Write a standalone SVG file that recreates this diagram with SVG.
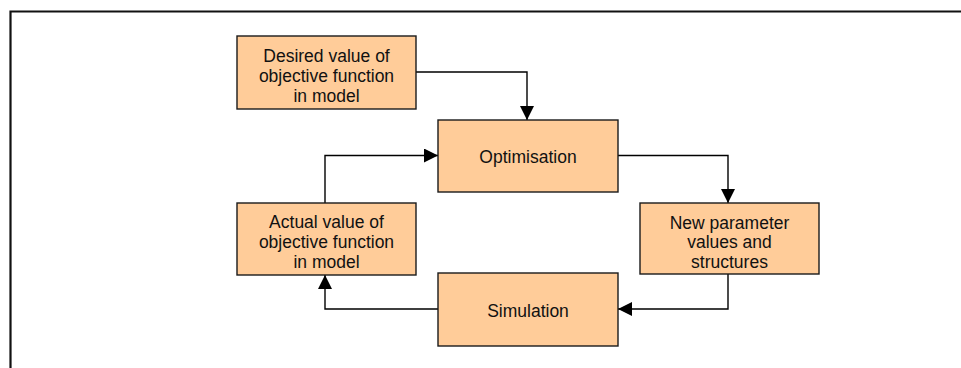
<svg xmlns="http://www.w3.org/2000/svg" width="961" height="368" viewBox="0 0 961 368">
<defs>
<style>
.box{fill:#FFCC99;stroke:#1a1a1a;stroke-width:1.4}
.t{font-family:"Liberation Sans",Arial,sans-serif;font-size:17.5px;fill:#111;text-anchor:middle}
.c{fill:none;stroke:#000;stroke-width:1.4}
</style>
<marker id="ah" viewBox="0 0 14 14" refX="14" refY="7" markerWidth="14" markerHeight="14" markerUnits="userSpaceOnUse" orient="auto">
<path d="M0,0 L14,7 L0,14 Z" fill="#000"/>
</marker>
</defs>
<rect x="0" y="0" width="961" height="368" fill="#fff"/>
<path d="M10.5,368 V11.5 H961" fill="none" stroke="#111" stroke-width="2.2"/>
<g id="connectors">
<path class="c" d="M416,72 H527 V120" marker-end="url(#ah)"/>
<path class="c" d="M618,155.5 H728 V203" marker-end="url(#ah)"/>
<path class="c" d="M728,274 V309 H618" marker-end="url(#ah)"/>
<path class="c" d="M438,309 H325 V275" marker-end="url(#ah)"/>
<path class="c" d="M325,203 V155.5 H438" marker-end="url(#ah)"/>
</g>
<g id="desired">
<rect class="box" x="237" y="36" width="179" height="73"/>
<text class="t" x="326.5" y="62">Desired value of</text>
<text class="t" x="326.5" y="82">objective function</text>
<text class="t" x="326.5" y="101.5">in model</text>
</g>
<g id="optimisation">
<rect class="box" x="438" y="120" width="180" height="72"/>
<text class="t" x="528" y="163">Optimisation</text>
</g>
<g id="newparams">
<rect class="box" x="640" y="203" width="179" height="71"/>
<text class="t" x="729.5" y="228.5">New parameter</text>
<text class="t" x="729.5" y="248.3">values and</text>
<text class="t" x="729.5" y="267.5">structures</text>
</g>
<g id="simulation">
<rect class="box" x="438" y="273" width="180" height="73"/>
<text class="t" x="528" y="316.5">Simulation</text>
</g>
<g id="actual">
<rect class="box" x="237" y="203" width="179" height="72"/>
<text class="t" x="326.5" y="228.3">Actual value of</text>
<text class="t" x="326.5" y="248.3">objective function</text>
<text class="t" x="326.5" y="268">in model</text>
</g>
</svg>
